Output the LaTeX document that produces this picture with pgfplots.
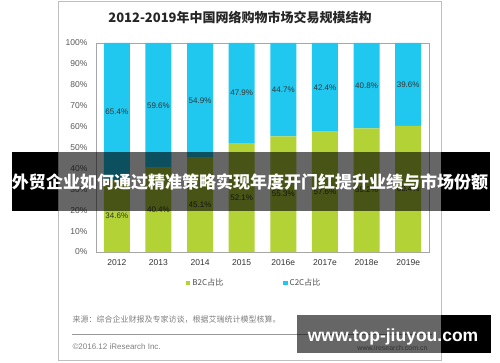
\documentclass[border=0pt]{standalone}
\usepackage{fontspec}
\setmainfont{Liberation Sans}
\newfontfamily\cjk{Noto Sans CJK SC}
\usepackage{pgfplots}
\pgfplotsset{compat=1.18}
\usepackage{pgfplotstable}

\definecolor{bgreen}{HTML}{B2D235}
\definecolor{ccyan}{HTML}{20C8F0}

\pgfplotstableread{
x b2c c2c
0 34.6 65.4
1 40.4 59.6
2 45.1 54.9
3 52.1 47.9
4 55.3 44.7
5 57.6 42.4
6 59.2 40.8
7 60.4 39.6
}\datatable

\begin{document}
\begin{tikzpicture}
\useasboundingbox (0,0) rectangle (500pt,362pt);
\fill[white] (0,0) rectangle (500pt,362pt);
\draw[color=black!25, line width=1pt] (58pt,2pt) rectangle (441pt,360pt);
\node[font=\cjk\bfseries\fontsize{13}{14}\selectfont, text=black!85] at (240pt,344pt) {2012-2019年中国网络购物市场交易规模结构};
\begin{axis}[
  at={(96pt,110pt)}, anchor=south west, scale only axis,
  width=333pt, height=209pt,
  ybar stacked, bar width=26pt,
  xmin=-0.5, xmax=7.5, ymin=0, ymax=100,
  xtick={0,...,7},
  xticklabels={2012,2013,2014,2015,2016e,2017e,2018e,2019e},
  ytick={0,10,...,100},
  yticklabel={\pgfmathprintnumber{\tick}\%},
  /pgf/number format/assume math mode=true,
  major tick length=0pt,
  axis line style={draw=black!35},
  yticklabel style={font=\fontsize{8.5}{9}\selectfont, text=black!65, xshift=-5pt},
  xticklabel style={font=\fontsize{8.5}{9}\selectfont, text=black!80, yshift=-4pt},
  point meta=explicit,
  nodes near coords={\pgfmathprintnumber[fixed,fixed zerofill,precision=1]{\pgfplotspointmeta}\%},
  every node near coord/.append style={font=\fontsize{8}{9}\selectfont, text=black!80, anchor=center},
  legend style={at={(0.475,-0.148)}, anchor=center, draw=none, fill=none,
    legend columns=2, font=\cjk\fontsize{8}{9}\selectfont, text=black!70,
    /tikz/every even column/.append style={column sep=58pt}},
  legend image code/.code={\fill[#1] (0pt,-2.2pt) rectangle (4.4pt,2.2pt);},
]
\addplot[fill=bgreen, draw=none] table[x=x, y=b2c, meta=b2c] {\datatable};
\addplot[fill=ccyan, draw=none] table[x=x, y=c2c, meta=c2c] {\datatable};
\legend{B2C占比, C2C占比}
\end{axis}

\node[anchor=west, font=\cjk\fontsize{8}{9}\selectfont, text=black!50] at (69pt,42pt) {来源：综合企业财报及专家访谈，根据艾瑞统计模型核算。};
\draw[black!40] (72pt,28pt) -- (432pt,28pt);
\node[anchor=west, font=\fontsize{8}{9}\selectfont, text=black!50] at (69pt,15pt) {©2016.12 iResearch Inc.};
\node[anchor=east, font=\fontsize{7}{8}\selectfont, text=black!50] at (431pt,14pt) {www.iresearch.com.cn};

% overlay banners
\fill[black] (12pt,151pt) rectangle (58pt,210pt);
\fill[black] (441pt,151pt) rectangle (490pt,210pt);
\fill[black, fill opacity=0.6] (58pt,151pt) rectangle (441pt,210pt);
\node[text=white, font=\cjk\bfseries\fontsize{17}{17}\selectfont] at (250pt,180pt) {外贸企业如何通过精准策略实现年度开门红提升业绩与市场份额};

\fill[black, fill opacity=0.6] (297pt,9pt) rectangle (441pt,47pt);
\fill[black] (441pt,9pt) rectangle (491pt,47pt);
\node[text=white, font=\bfseries\fontsize{17.5}{18}\selectfont] at (393pt,25pt) {www.top-jiuyou.com};
\end{tikzpicture}
\end{document}
